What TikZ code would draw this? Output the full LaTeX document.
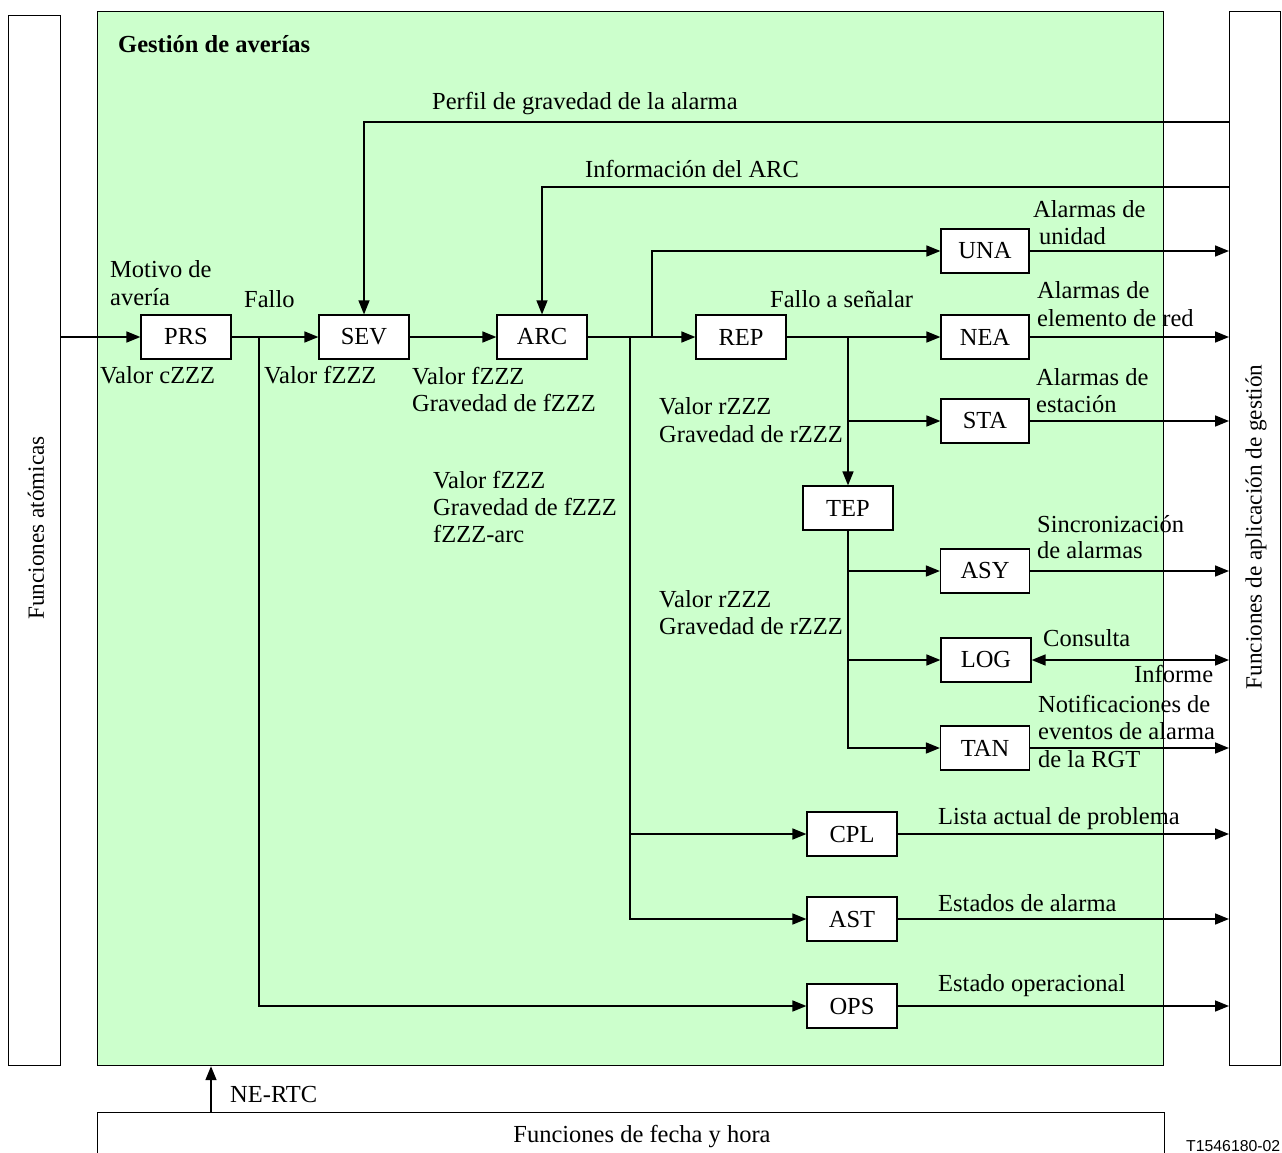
\documentclass[tikz,border=0pt]{standalone}
\usepackage{fontspec}
\setmainfont{Liberation Serif}
\newfontfamily\codefont{Liberation Sans}
\usetikzlibrary{arrows.meta}
\definecolor{gestfill}{RGB}{204,255,204}
\begin{document}
\begin{tikzpicture}[x=1pt,y=-1pt,
  txt/.style={font=\fontsize{24.5}{27.5}\selectfont, inner sep=0pt, anchor=base west},
  vtxt/.style={font=\fontsize{23.2}{27}\selectfont, inner sep=0pt, rotate=90},
  blk/.style={draw, fill=white, line width=1.2pt, minimum width=90pt, minimum height=44pt,
    inner sep=0pt, font=\fontsize{24.5}{27.5}\selectfont},
  frame/.style={draw, line width=1.2pt, inner sep=0pt, anchor=north west},
  flow/.style={line width=1.6pt, -{Triangle[length=14pt,width=11pt]}},
  feed/.style={line width=1.2pt, -{Triangle[length=14pt,width=11pt]}},
  both/.style={line width=1.6pt, {Triangle[length=14pt,width=11pt]}-{Triangle[length=14pt,width=11pt]}},
]
\useasboundingbox (0,0) rectangle (1282,1153);

% surrounding function blocks
\node[frame, fill=white, minimum width=52pt, minimum height=1050pt] (atom) at (8,15) {};
\node[vtxt] (atomt) at (36,528) {Funciones atómicas};
\node[frame, fill=gestfill, minimum width=1066pt, minimum height=1054pt] (gest) at (97,11) {};
\node[frame, fill=white, minimum width=51pt, minimum height=1054pt] (apl) at (1229,11) {};
\node[vtxt] (aplt) at (1256,527) {Funciones de aplicación de gestión};
\node[frame, fill=white, minimum width=1067pt, minimum height=90pt] (fh) at (97,1112) {};
\node[txt, anchor=base] (fht) at (642,1142) {Funciones de fecha y hora};
\node[txt, font={\fontsize{24.5}{27.5}\selectfont\bfseries}] (title) at (118,53) {Gestión de averías};
\node[inner sep=0pt, anchor=base west, font=\codefont\fontsize{15.8}{18}\selectfont] (code) at (1186,1151) {T1546180-02};

% processing blocks
\node[blk] (PRS) at (186,337) {PRS};
\node[blk] (SEV) at (364,337) {SEV};
\node[blk] (ARC) at (542,337) {ARC};
\node[blk] (REP) at (741,337) {REP};
\node[blk, minimum width=88pt] (UNA) at (985,251) {UNA};
\node[blk, minimum width=88pt] (NEA) at (985,337) {NEA};
\node[blk, minimum width=88pt] (STA) at (985,421) {STA};
\node[blk] (TEP) at (848,508) {TEP};
\node[blk, minimum width=89pt] (ASY) at (985,571) {ASY};
\node[blk] (LOG) at (986,660) {LOG};
\node[blk, minimum width=89pt] (TAN) at (985,748) {TAN};
\node[blk] (CPL) at (852,834) {CPL};
\node[blk] (AST) at (852,919) {AST};
\node[blk] (OPS) at (852,1006) {OPS};

% junctions and free ends
\coordinate (in) at (60,337);
\coordinate (j1) at (259,337);
\coordinate (j2) at (630,337);
\coordinate (j3) at (652,337);
\coordinate (j4) at (848,337);
\coordinate (pf) at (1229,122);
\coordinate (ai) at (1229,187);
\coordinate (rtc) at (211,1112);

% main flow
\draw[flow] (in) -- (PRS.west);
\draw[flow] (PRS.east) -- (SEV.west);
\draw[flow] (SEV.east) -- (ARC.west);
\draw[flow] (ARC.east) -- (REP.west);
\draw[flow] (REP.east) -- (NEA.west);
\draw[flow] (j1) |- (OPS.west);
\draw[flow] (j2) |- (CPL.west);
\draw[flow] (j2) |- (AST.west);
\draw[flow] (j3) |- (UNA.west);
\draw[flow] (j4) -- (TEP.north);
\draw[flow] (j4 |- STA.west) -- (STA.west);
\draw[flow] (TEP.south) |- (ASY.west);
\draw[flow] (TEP.south) |- (LOG.west);
\draw[flow] (TEP.south) |- (TAN.west);

% outputs towards management application functions
\draw[flow] (UNA.east) -- (UNA.east -| apl.west);
\draw[flow] (NEA.east) -- (NEA.east -| apl.west);
\draw[flow] (STA.east) -- (STA.east -| apl.west);
\draw[flow] (ASY.east) -- (ASY.east -| apl.west);
\draw[both] (LOG.east) -- (LOG.east -| apl.west);
\draw[flow] (TAN.east) -- (TAN.east -| apl.west);
\draw[flow] (CPL.east) -- (CPL.east -| apl.west);
\draw[flow] (AST.east) -- (AST.east -| apl.west);
\draw[flow] (OPS.east) -- (OPS.east -| apl.west);

% feedback from management application functions
\draw[feed] (pf) -| (SEV.north);
\draw[feed] (ai) -| (ARC.north);

% time reference
\draw[flow] (rtc) -- (rtc |- gest.south);

% labels
\node[txt] (mot1) at (110,277) {Motivo de};
\node[txt] (mot2) at (110,305) {avería};
\node[txt] (fallo) at (244,307) {Fallo};
\node[txt] (vc) at (100,383) {Valor cZZZ};
\node[txt] (vf1) at (264,383) {Valor fZZZ};
\node[txt] (vf2a) at (412,384) {Valor fZZZ};
\node[txt] (vf2b) at (412,411) {Gravedad de fZZZ};
\node[txt] (vf3a) at (433,488) {Valor fZZZ};
\node[txt] (vf3b) at (433,515) {Gravedad de fZZZ};
\node[txt] (vf3c) at (433,542) {fZZZ-arc};
\node[txt] (vr1a) at (659,414) {Valor rZZZ};
\node[txt] (vr1b) at (659,442) {Gravedad de rZZZ};
\node[txt] (vr2a) at (659,607) {Valor rZZZ};
\node[txt] (vr2b) at (659,634) {Gravedad de rZZZ};
\node[txt] (fas) at (770,307) {Fallo a señalar};
\node[txt] (una1) at (1033,217) {Alarmas de};
\node[txt] (una2) at (1039,244) {unidad};
\node[txt] (nea1) at (1037,298) {Alarmas de};
\node[txt] (nea2) at (1037,326) {elemento de red};
\node[txt] (sta1) at (1036,385) {Alarmas de};
\node[txt] (sta2) at (1036,412) {estación};
\node[txt] (asy1) at (1037,532) {Sincronización};
\node[txt] (asy2) at (1037,558) {de alarmas};
\node[txt] (cons) at (1043,646) {Consulta};
\node[txt] (inf) at (1134,682) {Informe};
\node[txt] (tan1) at (1038,712) {Notificaciones de};
\node[txt] (tan2) at (1038,739) {eventos de alarma};
\node[txt] (tan3) at (1038,767) {de la RGT};
\node[txt] (cpll) at (938,824) {Lista actual de problema};
\node[txt] (astl) at (938,911) {Estados de alarma};
\node[txt] (opsl) at (938,991) {Estado operacional};
\node[txt] (perf) at (432,110) {Perfil de gravedad de la alarma};
\node[txt] (info) at (585,177) {Información del ARC};
\node[txt] (rtcl) at (230,1102) {NE-RTC};
\end{tikzpicture}
\end{document}
